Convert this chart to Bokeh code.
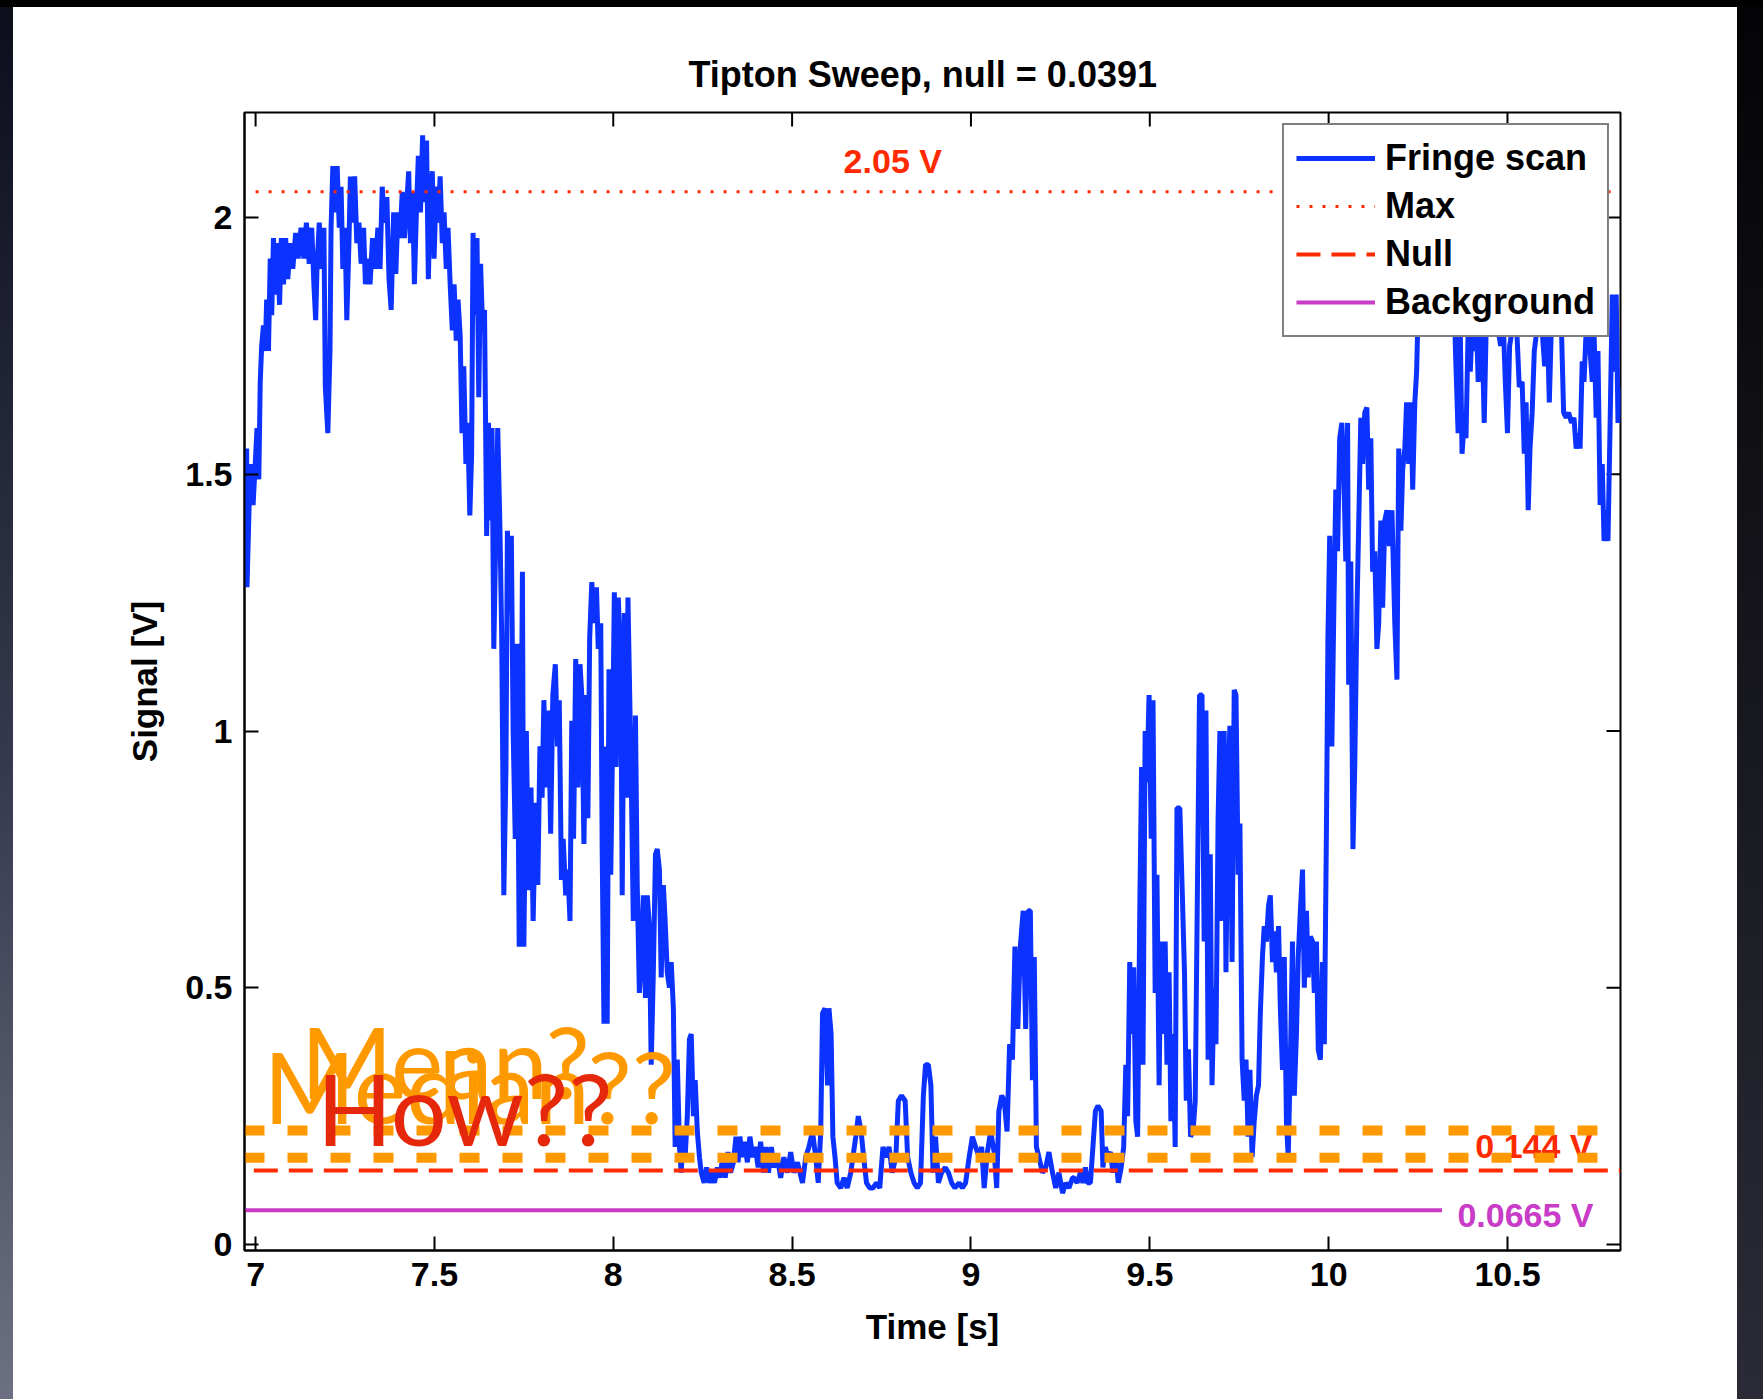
from bokeh.plotting import figure
from bokeh.models import Range1d, FixedTicker, Legend, LegendItem, Spacer
from bokeh.layouts import column, row
from bokeh.core.properties import value
from bokeh.embed import file_html
from bokeh.resources import INLINE

# ---------------- data ----------------
fringe_scan = [
    (6.975, 1.55), (6.976, 1.28), (6.982, 1.44), (6.988, 1.52), (6.993, 1.44), (6.999, 1.52), (7.004, 1.59),
    (7.009, 1.49), (7.013, 1.68), (7.017, 1.75), (7.022, 1.79), (7.027, 1.74), (7.031, 1.84), (7.036, 1.74),
    (7.041, 1.92), (7.045, 1.81), (7.050, 1.96), (7.056, 1.85), (7.061, 1.95), (7.067, 1.83), (7.072, 1.96),
    (7.078, 1.87), (7.084, 1.96), (7.090, 1.88), (7.097, 1.95), (7.104, 1.90), (7.112, 1.97), (7.119, 1.92),
    (7.127, 1.98), (7.135, 1.92), (7.142, 1.99), (7.150, 1.91), (7.157, 1.98), (7.163, 1.87), (7.168, 1.80),
    (7.172, 1.91), (7.178, 1.99), (7.184, 1.90), (7.191, 1.98), (7.195, 1.67), (7.202, 1.58), (7.208, 1.74),
    (7.211, 1.98), (7.216, 2.10), (7.223, 2.01), (7.228, 2.10), (7.234, 1.98), (7.239, 2.06), (7.244, 1.90),
    (7.250, 1.98), (7.255, 1.80), (7.261, 1.95), (7.265, 2.08), (7.272, 1.99), (7.277, 2.08), (7.283, 1.95),
    (7.289, 1.99), (7.295, 1.91), (7.302, 1.98), (7.307, 1.87), (7.314, 1.92), (7.320, 1.87), (7.327, 1.96),
    (7.334, 1.90), (7.342, 1.98), (7.348, 1.90), (7.354, 2.06), (7.360, 1.99), (7.367, 2.04), (7.373, 1.88),
    (7.379, 1.82), (7.386, 2.01), (7.392, 1.89), (7.398, 2.01), (7.404, 1.96), (7.410, 2.05), (7.416, 1.96),
    (7.422, 2.02), (7.428, 2.09), (7.433, 1.95), (7.439, 2.05), (7.444, 1.87), (7.450, 2.02), (7.455, 2.12),
    (7.461, 2.01), (7.467, 2.16), (7.472, 2.03), (7.478, 2.15), (7.483, 1.88), (7.488, 2.03), (7.494, 2.09),
    (7.499, 1.92), (7.505, 2.06), (7.510, 1.99), (7.516, 2.08), (7.522, 1.95), (7.527, 2.01), (7.533, 1.90),
    (7.538, 1.98), (7.544, 1.87), (7.550, 1.78), (7.555, 1.87), (7.561, 1.76), (7.566, 1.84), (7.572, 1.77),
    (7.577, 1.58), (7.582, 1.71), (7.588, 1.52), (7.593, 1.60), (7.599, 1.42), (7.604, 1.54), (7.608, 1.97),
    (7.614, 1.81), (7.619, 1.96), (7.624, 1.65), (7.629, 1.91), (7.634, 1.80), (7.640, 1.82), (7.646, 1.38),
    (7.651, 1.60), (7.657, 1.41), (7.661, 1.59), (7.666, 1.16), (7.672, 1.40), (7.677, 1.59), (7.683, 1.40),
    (7.688, 1.19), (7.694, 0.68), (7.700, 0.93), (7.704, 1.39), (7.710, 1.23), (7.715, 1.38), (7.720, 1.00),
    (7.726, 0.79), (7.731, 1.17), (7.737, 0.58), (7.743, 1.00),
    (7.746, 1.31), (7.750, 0.58), (7.757, 1.00), (7.763, 0.69), (7.770, 0.89), (7.776, 0.63), (7.783, 0.86),
    (7.789, 0.70), (7.795, 0.97), (7.801, 0.87), (7.806, 1.06), (7.813, 0.89), (7.819, 1.04), (7.825, 0.80),
    (7.831, 1.07), (7.838, 1.13), (7.844, 0.97), (7.849, 1.06), (7.855, 0.71), (7.860, 0.79), (7.867, 0.68),
    (7.873, 0.73), (7.879, 0.63), (7.884, 1.02), (7.889, 0.79), (7.895, 1.14), (7.901, 0.89), (7.907, 1.13),
    (7.912, 1.07), (7.918, 0.78), (7.924, 1.07), (7.929, 0.83), (7.934, 1.18), (7.940, 1.29), (7.946, 1.21),
    (7.953, 1.28), (7.958, 1.16), (7.965, 1.21), (7.969, 0.77), (7.974, 0.43), (7.979, 0.97), (7.983, 0.43),
    (7.988, 1.12), (7.993, 0.72), (7.998, 0.97), (8.003, 1.27), (8.008, 0.93), (8.014, 1.26), (8.021, 1.13),
    (8.025, 0.68), (8.031, 1.23), (8.037, 0.87), (8.041, 1.26), (8.047, 1.03), (8.051, 0.87), (8.056, 0.63),
    (8.062, 1.03), (8.067, 0.70), (8.073, 0.49), (8.078, 0.55), (8.084, 0.68), (8.090, 0.48), (8.095, 0.68),
    (8.101, 0.62), (8.106, 0.35), (8.112, 0.53), (8.118, 0.76), (8.123, 0.77), (8.129, 0.73), (8.134, 0.52),
    (8.140, 0.70), (8.145, 0.63), (8.151, 0.53), (8.157, 0.50), (8.162, 0.55), (8.168, 0.46), (8.173, 0.19),
    (8.179, 0.36), (8.185, 0.19), (8.190, 0.14), (8.196, 0.23), (8.201, 0.17), (8.207, 0.25), (8.213, 0.40),
    (8.218, 0.41), (8.224, 0.25), (8.229, 0.32), (8.235, 0.22), (8.241, 0.17), (8.246, 0.14), (8.254, 0.12),
    (8.261, 0.15), (8.269, 0.12), (8.276, 0.14), (8.283, 0.12), (8.291, 0.15), (8.298, 0.13), (8.306, 0.17),
    (8.313, 0.13), (8.321, 0.18), (8.328, 0.14), (8.336, 0.16), (8.343, 0.21), (8.349, 0.16), (8.354, 0.21),
    (8.361, 0.17), (8.367, 0.20), (8.375, 0.16), (8.382, 0.21), (8.390, 0.17), (8.397, 0.19), (8.405, 0.15),
    (8.412, 0.20), (8.420, 0.14), (8.427, 0.19), (8.434, 0.14), (8.442, 0.19), (8.449, 0.15), (8.459, 0.17),
    (8.468, 0.13), (8.477, 0.17), (8.487, 0.14), (8.496, 0.18), (8.505, 0.14), (8.515, 0.16),
    (8.529, 0.12), (8.538, 0.17), (8.547, 0.19), (8.557, 0.22), (8.566, 0.17), (8.573, 0.12), (8.580, 0.22),
    (8.585, 0.45), (8.592, 0.46), (8.599, 0.31), (8.603, 0.46), (8.609, 0.41), (8.614, 0.21), (8.620, 0.17),
    (8.626, 0.12), (8.636, 0.11), (8.645, 0.13), (8.654, 0.11), (8.664, 0.14), (8.670, 0.17), (8.678, 0.21),
    (8.685, 0.25), (8.693, 0.22), (8.700, 0.17), (8.708, 0.12), (8.717, 0.11), (8.726, 0.11), (8.736, 0.12),
    (8.745, 0.11), (8.754, 0.19), (8.762, 0.17), (8.771, 0.19), (8.780, 0.14), (8.790, 0.17), (8.797, 0.28),
    (8.806, 0.29), (8.816, 0.28), (8.823, 0.17), (8.832, 0.14), (8.841, 0.12), (8.850, 0.11), (8.859, 0.12),
    (8.867, 0.29), (8.873, 0.35), (8.881, 0.35), (8.888, 0.31), (8.894, 0.14), (8.901, 0.21), (8.909, 0.12),
    (8.918, 0.14), (8.928, 0.15), (8.937, 0.14), (8.946, 0.12), (8.955, 0.11), (8.967, 0.12), (8.976, 0.11),
    (8.985, 0.12), (8.995, 0.17), (9.004, 0.21), (9.013, 0.19), (9.023, 0.17), (9.030, 0.19), (9.037, 0.11),
    (9.046, 0.18), (9.055, 0.22), (9.065, 0.18), (9.072, 0.11), (9.078, 0.26), (9.086, 0.29), (9.093, 0.28),
    (9.101, 0.22), (9.108, 0.39), (9.116, 0.36), (9.123, 0.58), (9.131, 0.42), (9.138, 0.58), (9.146, 0.65),
    (9.153, 0.42), (9.160, 0.65), (9.166, 0.65), (9.172, 0.32), (9.177, 0.56), (9.183, 0.19), (9.190, 0.17),
    (9.200, 0.14), (9.209, 0.15), (9.218, 0.18), (9.228, 0.14), (9.237, 0.11), (9.246, 0.14), (9.256, 0.10),
    (9.265, 0.12), (9.274, 0.11), (9.284, 0.13),
    (9.287, 0.13), (9.297, 0.12), (9.306, 0.14), (9.313, 0.12), (9.320, 0.15), (9.326, 0.12), (9.334, 0.12),
    (9.341, 0.19), (9.348, 0.26), (9.355, 0.27), (9.364, 0.26), (9.369, 0.15), (9.376, 0.19), (9.382, 0.17),
    (9.390, 0.18), (9.397, 0.14), (9.405, 0.17), (9.412, 0.12), (9.420, 0.15), (9.427, 0.19), (9.433, 0.35),
    (9.438, 0.25), (9.444, 0.55), (9.449, 0.41), (9.455, 0.54), (9.461, 0.24), (9.466, 0.21), (9.472, 0.65),
    (9.477, 0.93), (9.481, 0.35), (9.487, 1.00), (9.492, 0.90), (9.498, 1.07), (9.504, 0.79), (9.509, 1.06),
    (9.515, 0.49), (9.520, 0.72), (9.526, 0.31), (9.531, 0.59), (9.537, 0.41), (9.543, 0.59), (9.548, 0.35),
    (9.554, 0.53), (9.559, 0.24), (9.565, 0.41), (9.571, 0.19), (9.576, 0.85), (9.584, 0.85), (9.591, 0.68),
    (9.597, 0.53), (9.602, 0.28), (9.608, 0.38), (9.614, 0.21), (9.621, 0.22), (9.627, 0.28), (9.633, 0.68),
    (9.639, 1.07), (9.646, 1.07), (9.652, 0.59), (9.657, 1.04), (9.663, 0.36), (9.669, 0.76), (9.674, 0.31),
    (9.680, 0.50), (9.685, 0.39), (9.691, 0.83), (9.696, 1.00), (9.702, 0.63), (9.708, 1.00), (9.713, 0.53),
    (9.719, 0.90), (9.724, 1.01), (9.730, 0.55), (9.736, 1.08), (9.741, 1.07), (9.747, 0.72), (9.752, 0.82),
    (9.758, 0.36), (9.764, 0.28), (9.769, 0.36), (9.775, 0.21), (9.780, 0.34), (9.786, 0.17), (9.792, 0.24),
    (9.798, 0.29), (9.804, 0.31), (9.809, 0.45), (9.815, 0.56), (9.820, 0.62), (9.826, 0.59), (9.832, 0.66),
    (9.837, 0.68), (9.843, 0.55), (9.848, 0.61), (9.854, 0.53), (9.860, 0.62), (9.865, 0.46), (9.871, 0.34),
    (9.876, 0.56), (9.882, 0.24), (9.887, 0.17), (9.893, 0.36), (9.899, 0.59), (9.904, 0.29), (9.910, 0.41),
    (9.915, 0.56), (9.921, 0.65), (9.927, 0.73), (9.932, 0.50), (9.938, 0.65), (9.943, 0.52), (9.949, 0.60),
    (9.955, 0.59), (9.960, 0.49), (9.966, 0.59), (9.971, 0.38), (9.977, 0.36), (9.983, 0.55), (9.988, 0.39),
    (9.994, 0.82), (9.998, 1.18), (10.003, 1.38), (10.009, 0.97), (10.014, 1.21), (10.020, 1.47), (10.025, 1.35),
    (10.031, 1.57), (10.037, 1.60), (10.042, 1.51), (10.048, 1.33), (10.053, 1.60),
    (10.056, 1.09), (10.062, 1.33), (10.068, 0.77), (10.073, 0.93), (10.079, 1.23), (10.084, 1.40),
    (10.090, 1.61), (10.095, 1.52), (10.101, 1.62), (10.107, 1.63), (10.112, 1.47), (10.118, 1.57), (10.123, 1.31),
    (10.129, 1.35), (10.135, 1.16), (10.140, 1.21), (10.146, 1.41), (10.151, 1.24), (10.157, 1.41), (10.163, 1.43),
    (10.170, 1.36), (10.177, 1.43), (10.185, 1.21), (10.191, 1.10), (10.196, 1.55), (10.202, 1.39), (10.207, 1.51),
    (10.213, 1.55), (10.218, 1.64), (10.224, 1.52), (10.230, 1.64), (10.235, 1.47), (10.241, 1.64), (10.246, 1.70),
    (10.252, 1.87), (10.258, 1.78), (10.266, 1.92), (10.275, 1.84), (10.285, 1.95), (10.294, 1.85), (10.303, 1.94),
    (10.313, 1.81), (10.322, 1.92), (10.331, 1.84), (10.341, 1.92), (10.350, 1.85), (10.356, 1.71), (10.362, 1.58),
    (10.368, 1.78), (10.373, 1.54), (10.379, 1.60), (10.384, 1.57), (10.390, 1.78), (10.396, 1.70), (10.401, 1.78),
    (10.407, 1.74), (10.412, 1.84), (10.418, 1.68), (10.424, 1.74), (10.429, 1.78), (10.435, 1.60), (10.440, 1.77),
    (10.448, 1.88), (10.457, 1.92), (10.466, 1.84), (10.474, 1.78), (10.481, 1.75), (10.489, 1.78), (10.494, 1.68),
    (10.500, 1.58), (10.506, 1.75), (10.513, 1.78), (10.520, 1.87), (10.528, 1.75), (10.533, 1.67), (10.541, 1.68),
    (10.547, 1.54), (10.552, 1.64), (10.558, 1.43), (10.563, 1.55), (10.569, 1.62), (10.575, 1.74), (10.582, 1.78),
    (10.589, 1.88), (10.597, 1.78), (10.604, 1.71), (10.612, 1.78), (10.617, 1.64), (10.625, 1.85), (10.634, 1.92),
    (10.643, 1.81), (10.651, 1.78), (10.657, 1.62), (10.664, 1.61), (10.671, 1.62), (10.679, 1.60), (10.686, 1.61),
    (10.692, 1.55), (10.698, 1.58), (10.703, 1.55), (10.709, 1.72), (10.714, 1.68), (10.720, 1.78), (10.725, 1.84),
    (10.731, 1.74), (10.737, 1.68), (10.742, 1.78), (10.748, 1.61), (10.753, 1.74), (10.759, 1.44), (10.765, 1.52),
    (10.770, 1.37), (10.776, 1.43), (10.781, 1.37), (10.787, 1.60), (10.793, 1.85), (10.798, 1.70), (10.804, 1.85),
    (10.809, 1.60), (10.813, 1.67),
]
time_s = [pt[0] for pt in fringe_scan]
signal_v = [pt[1] for pt in fringe_scan]

max_level = 2.05
null_level = 0.144
background_level = 0.0665
orange_levels = [0.222, 0.169]

x_ticks = [7, 7.5, 8, 8.5, 9, 9.5, 10, 10.5]
x_tick_labels = ["7", "7.5", "8", "8.5", "9", "9.5", "10", "10.5"]
y_ticks = [0, 0.5, 1, 1.5, 2]
y_tick_labels = ["0", "0.5", "1", "1.5", "2"]

title_text = "Tipton Sweep, null = 0.0391"
legend_labels = ["Fringe scan", "Max", "Null", "Background"]
value_labels = ["2.05 V", "0.144 V", "0.0665 V"]
question_labels = ["Mean?", "Median??", "How??"]

# ---------------- geometry / styles ----------------
X_LO, X_HI = 6.969, 10.816
Y_LO, Y_HI = -0.0117, 2.2045
FRAME_W, FRAME_H = 1376, 1138
TICK_PX = 14
tick_dx = TICK_PX * (X_HI - X_LO) / FRAME_W
tick_dy = TICK_PX * (Y_HI - Y_LO) / FRAME_H

BLUE = "#0c32ff"
RED = "#ff2a00"
MAGENTA = "#c83cc8"
ORANGE = "#ff9900"
HOW_RED = "#e5280c"
FONT = "Liberation Sans"
SMALL_FS = 34
BIG_FS = 99   # (a size of 100 is misread as a font weight by the svg backend)

p = figure(
    frame_width=FRAME_W, frame_height=FRAME_H,
    x_range=Range1d(X_LO, X_HI), y_range=Range1d(Y_LO, Y_HI),
    output_backend="svg", toolbar_location=None,
    min_border_left=231, min_border_right=117, min_border_top=105, min_border_bottom=149,
    background_fill_color="white", border_fill_color="white",
    title=title_text,
)
p.grid.visible = False
p.outline_line_color = "black"
p.outline_line_width = 2

p.title.text_font = FONT
p.title.text_font_size = "36px"
p.title.text_font_style = "bold"
p.title.align = "left"
p.title.offset = 444
p.title.text_color = "black"
p.title.standoff = 35

def style_axis(ax, ticks, labels):
    ax.ticker = FixedTicker(ticks=ticks)
    ax.major_label_overrides = {t: l for t, l in zip(ticks, labels)}
    ax.major_tick_in = TICK_PX
    ax.major_tick_out = 0
    ax.major_tick_line_width = 2
    ax.major_tick_line_color = "black"
    ax.minor_tick_line_color = None
    ax.axis_line_color = "black"
    ax.axis_line_width = 2
    ax.major_label_text_font = FONT
    ax.major_label_text_font_style = "bold"
    ax.major_label_text_color = "black"
    ax.major_label_standoff = 12
    ax.major_label_text_font_size = "34px"
    ax.axis_label_text_font = FONT
    ax.axis_label_text_font_style = "bold"
    ax.axis_label_text_font_size = "35px"
    ax.axis_label_text_color = "black"

style_axis(p.xaxis[0], x_ticks, x_tick_labels)
style_axis(p.yaxis[0], y_ticks, y_tick_labels)
p.xaxis[0].axis_label = "Time [s]"
p.yaxis[0].axis_label = "Signal [V]"
p.xaxis[0].axis_label_standoff = 18
p.yaxis[0].axis_label_standoff = 18

# box ticks on top and right edges (MATLAB "box on")
p.segment(x0=x_ticks, y0=[Y_HI] * len(x_ticks), x1=x_ticks, y1=[Y_HI - tick_dy] * len(x_ticks),
          line_color="black", line_width=2)
p.segment(x0=[X_HI] * len(y_ticks), y0=y_ticks, x1=[X_HI - tick_dx] * len(y_ticks), y1=y_ticks,
          line_color="black", line_width=2)

# ---------------- glyphs ----------------
r_bg = p.line([X_LO, 10.317], [background_level, background_level], line_color=MAGENTA, line_width=4)
r_fringe = p.line(time_s, signal_v, line_color=BLUE, line_width=5)
r_max = p.line([7.0, X_HI], [max_level, max_level], line_color=RED, line_width=3, line_dash="3 10")
r_null = p.line([6.995, X_HI], [null_level, null_level], line_color=RED, line_width=4, line_dash="24 11")

small_off = -0.4 * SMALL_FS
big_off = -0.38 * BIG_FS
p.text(x=[8.644, 10.41], y=[2.083, 0.1655], text=value_labels[:2], text_color=RED,
       text_font=value(FONT), text_font_style="bold", text_font_size=value(f"{SMALL_FS}px"),
       text_align="left", text_baseline="alphabetic", y_offset=small_off)
p.text(x=[10.36], y=[0.031], text=value_labels[2:], text_color=MAGENTA,
       text_font=value(FONT), text_font_style="bold", text_font_size=value(f"{SMALL_FS}px"),
       text_align="left", text_baseline="alphabetic", y_offset=small_off)

for lvl in orange_levels:
    p.line([X_LO, X_HI], [lvl, lvl], line_color=ORANGE, line_width=10, line_dash="20 23")

p.text(x=[7.126, 7.022], y=[0.286, 0.2356], text=question_labels[:2], text_color=ORANGE,
       text_font=value("Lato"), text_font_style="normal", text_font_size=value(f"{BIG_FS}px"),
       text_align="left", text_baseline="alphabetic", y_offset=big_off)
p.text(x=[7.171], y=[0.193], text=question_labels[2:], text_color=HOW_RED,
       text_font=value("Lato"), text_font_style="normal", text_font_size=value(f"{BIG_FS}px"),
       text_align="left", text_baseline="alphabetic", y_offset=big_off)

legend = Legend(
    items=[LegendItem(label=legend_labels[0], renderers=[r_fringe]),
           LegendItem(label=legend_labels[1], renderers=[r_max]),
           LegendItem(label=legend_labels[2], renderers=[r_null]),
           LegendItem(label=legend_labels[3], renderers=[r_bg])],
    location="top_right", margin=11, padding=12, spacing=6,
    glyph_width=79, glyph_height=38, label_height=38, label_standoff=10,
    label_text_font=FONT, label_text_font_style="bold", label_text_font_size="36px",
    label_text_color="black",
    border_line_color="black", border_line_width=2,
    background_fill_color="white", background_fill_alpha=1.0,
)
p.add_layout(legend)

# ---------------- slide frame ----------------
left_band = Spacer(width=13, height=1392,
                   styles={"background": "linear-gradient(to bottom, #0c0e1c, #363a4e 55%, #6c7082)"})
right_band = Spacer(width=26, height=1392,
                    styles={"background": "linear-gradient(to bottom, #040406, #2a2b36)"})
top_band = Spacer(width=1763, height=7, styles={"background": "#000000"})

layout = column(top_band, row(left_band, p, right_band, spacing=0), spacing=0)

open("out.html", "w").write(file_html(layout, INLINE))
